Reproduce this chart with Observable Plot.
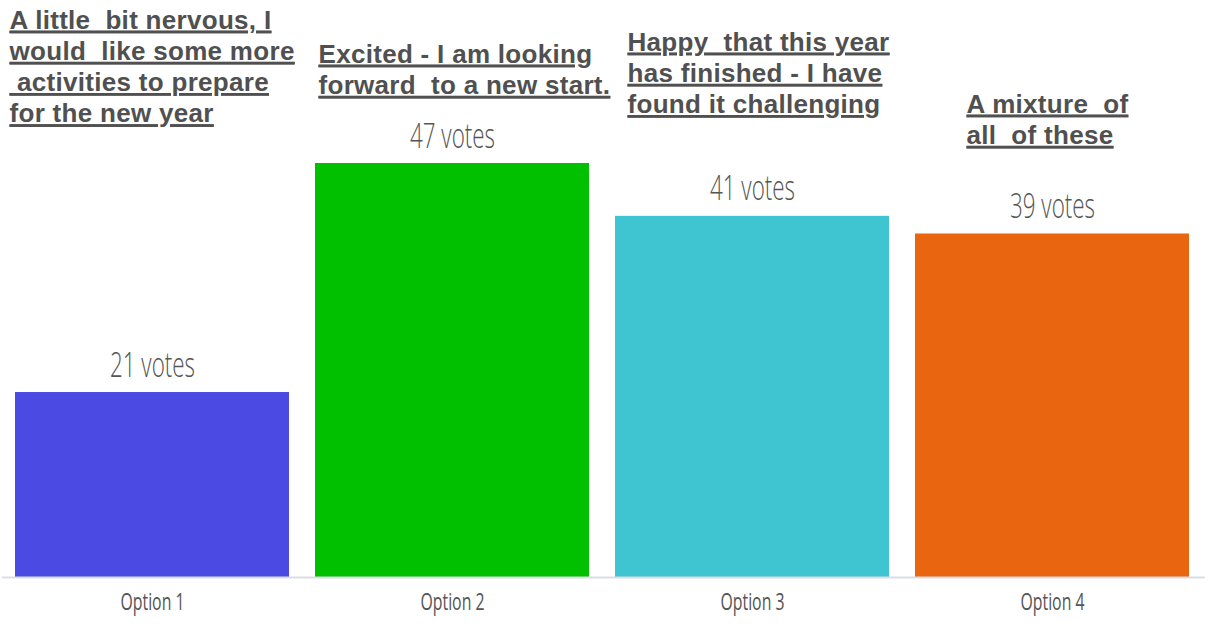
<!DOCTYPE html>
<html>
<head>
<meta charset="utf-8">
<script src="https://cdn.jsdelivr.net/npm/d3@7"></script>
<script src="https://cdn.jsdelivr.net/npm/@observablehq/plot@0.6"></script>
<style>
  html, body { margin: 0; padding: 0; background: #fff; }
  #chart svg { display: block; }
  .hdr text, .hdr tspan { text-decoration: underline; white-space: pre; letter-spacing: 0.3px; }
</style>
</head>
<body>
<div id="chart"></div>
<script>
const options = ["Option 1", "Option 2", "Option 3", "Option 4"];
const votes = [21, 47, 41, 39];
const voteLabels = ["21 votes", "47 votes", "41 votes", "39 votes"];
const headers = [
  "A little  bit nervous, I\nwould  like some more\n activities to prepare\nfor the new year",
  "Excited - I am looking\nforward  to a new start.",
  "Happy  that this year\nhas finished - I have\nfound it challenging",
  "A mixture  of\nall  of these"
];
const colors = ["#4b4be3", "#00c000", "#3fc5d2", "#ea6510"];

const data = options.map((o, i) => ({option: o, votes: votes[i], label: voteLabels[i], header: headers[i]}));

const headerStyle = [
  {dx: -143, dy: -157},
  {dx: -134, dy: -123},
  {dx: -125, dy: -135},
  {dx: -86, dy: -73}
];

const headerMarks = data.map((d, i) => Plot.text([d], {
  x: "option",
  text: "header",
  frameAnchor: "top",
  lineAnchor: "top",
  textAnchor: "start",
  dx: headerStyle[i].dx,
  dy: headerStyle[i].dy,
  fontSize: 26,
  fontWeight: "bold",
  fontFamily: "Liberation Sans, Arial, sans-serif",
  fill: "#505050",
  lineHeight: 1.2,
  className: "hdr"
}));

const chart = Plot.plot({
  width: 1211,
  height: 636,
  marginTop: 163,
  marginBottom: 59,
  marginLeft: 14,
  marginRight: 21,
  style: {background: "#fff", overflow: "visible"},
  x: {domain: options, paddingInner: 0.087, paddingOuter: 0, label: null},
  y: {domain: [0, d3.max(votes)], axis: null},
  color: {domain: options, range: colors},
  marks: [
    Plot.barY(data, {x: "option", y: "votes", fill: "option"}),
    Plot.ruleY([0], {stroke: "#d9dee6", strokeWidth: 2, insetLeft: -12, insetRight: -15}),
    Plot.text(data, {
      x: "option", y: "votes", text: "label",
      lineAnchor: "bottom", dy: -16,
      fontSize: 34, fontWeight: 300, fontFamily: "Open Sans, sans-serif", fill: "#555",
      className: "votes"
    }),
    Plot.axisX({tickSize: 0, tickPadding: 15, fontSize: 24, fontFamily: "Open Sans, sans-serif", fill: "#555", label: null}),
    ...headerMarks
  ]
});

document.getElementById("chart").appendChild(chart);

d3.select(chart).selectAll('g.votes text')
  .attr("textLength", 85).attr("lengthAdjust", "spacingAndGlyphs");
d3.select(chart).selectAll('g[aria-label="x-axis tick label"] text')
  .attr("textLength", 64).attr("lengthAdjust", "spacingAndGlyphs");
d3.select(chart).selectAll('g.hdr text, g.hdr tspan')
  .style("text-decoration", "underline")
  .style("white-space", "pre");
</script>
</body>
</html>
